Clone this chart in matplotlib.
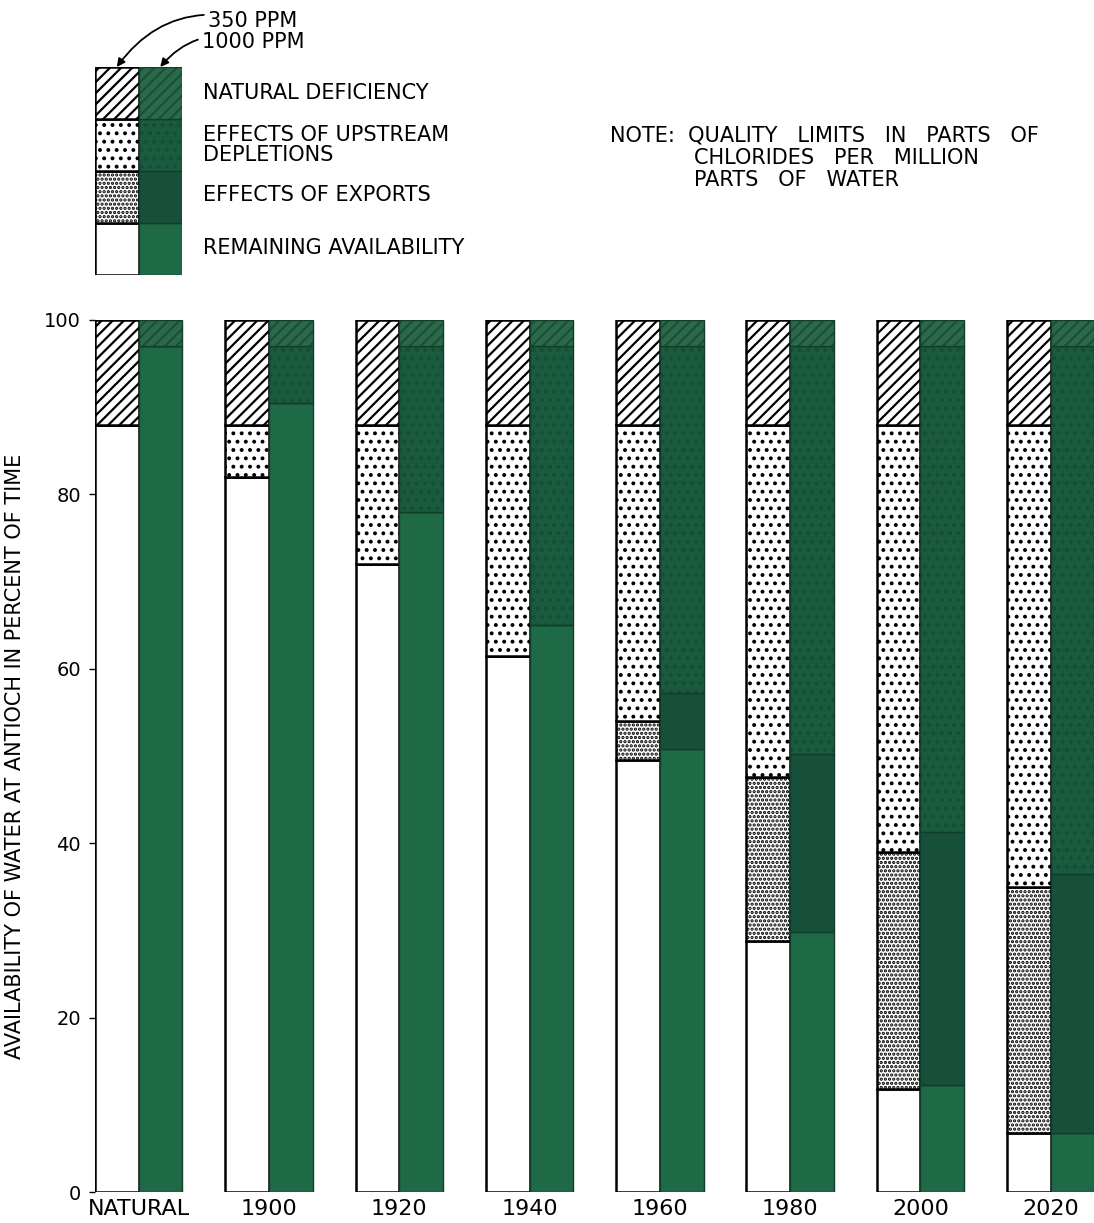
import matplotlib
matplotlib.use("Agg")
import matplotlib.pyplot as plt
import numpy as np

plt.rcParams['font.family'] = ['DejaVu Sans']
plt.rcParams['hatch.linewidth'] = 1.6

# ---------------- data ----------------
categories = ["NATURAL", "1900", "1920", "1940", "1960", "1980", "2000", "2020"]
segment_names = ["REMAINING AVAILABILITY", "EFFECTS OF EXPORTS",
                 "EFFECTS OF UPSTREAM\nDEPLETIONS", "NATURAL DEFICIENCY"]

# 350 PPM quality limit (percent of time), bottom to top
ppm350_remaining = [88, 82, 72, 61.5, 49.5, 28.8, 11.8, 6.8]
ppm350_exports = [0, 0, 0, 0, 4.5, 18.8, 27.2, 28.2]
ppm350_upstream = [0, 6, 16, 26.5, 34, 40.4, 49, 53]
ppm350_deficiency = [12, 12, 12, 12, 12, 12, 12, 12]

# 1000 PPM quality limit (percent of time), bottom to top
ppm1000_remaining = [97, 90.5, 78, 65, 50.8, 29.8, 12.3, 6.8]
ppm1000_exports = [0, 0, 0, 0, 6.4, 20.4, 29.0, 29.7]
ppm1000_upstream = [0, 6.5, 19, 32, 39.8, 46.8, 55.7, 60.5]
ppm1000_deficiency = [3, 3, 3, 3, 3, 3, 3, 3]

yticks = [0, 20, 40, 60, 80, 100]
ytick_labels = ["0", "20", "40", "60", "80", "100"]

# ---------------- styles ----------------
w = 0.335
white_fc = ["white", "white", "white", "white"]
white_hatch = [None, "....", "..", "///"]
green_fc = ["#1f6a46", "#17503a", "#1a5a3e", "#2a6a4b"]
green_hatch = [None, None, "..", "///"]
green_hc = [None, None, "#164d35", "#1b4f38"]
FS = 15

fig = plt.figure(figsize=(10.94, 12.23), dpi=100)
ax = fig.add_axes([95/1094, 31/1223, 1 - 95/1094, 872/1223])

x = np.arange(len(categories))
s350 = [ppm350_remaining, ppm350_exports, ppm350_upstream, ppm350_deficiency]
s1000 = [ppm1000_remaining, ppm1000_exports, ppm1000_upstream, ppm1000_deficiency]


def draw_white(axis, xs, segs, width):
    bottom = np.zeros(len(xs))
    for k, vals in enumerate(segs):
        vals = np.asarray(vals, dtype=float)
        axis.bar(xs, vals, width, bottom=bottom, color=white_fc[k],
                 hatch=white_hatch[k], edgecolor="black", linewidth=0)
        axis.bar(xs, vals, width, bottom=bottom, fill=False,
                 edgecolor="black", linewidth=1.8)
        bottom = bottom + vals


def draw_green(axis, xs, segs, width):
    bottom = np.zeros(len(xs))
    for k, vals in enumerate(segs):
        vals = np.asarray(vals, dtype=float)
        axis.bar(xs, vals, width, bottom=bottom, color=green_fc[k],
                 hatch=green_hatch[k],
                 edgecolor=green_hc[k] if green_hc[k] else green_fc[k],
                 linewidth=0)
        axis.bar(xs, vals, width, bottom=bottom, fill=False,
                 edgecolor="#123d29", linewidth=1.0)
        bottom = bottom + vals


draw_white(ax, x, s350, w)
draw_green(ax, x + w, s1000, w)

ax.set_xlim(-w/2, -w/2 + 999/130.3)
ax.set_ylim(0, 100)
for sp in ["top", "right", "bottom", "left"]:
    ax.spines[sp].set_visible(False)
ax.set_yticks(yticks)
ax.set_yticklabels(ytick_labels, fontsize=14)
ax.tick_params(axis="y", length=4, width=1, pad=6, direction="out")
ax.set_xticks(x + w/2)
ax.set_xticklabels(categories, fontsize=16)
ax.tick_params(axis="x", length=0, pad=5)
ax.set_ylabel("AVAILABILITY OF WATER AT ANTIOCH IN PERCENT OF TIME",
              fontsize=FS, labelpad=14)

# ---------------- legend ----------------
lax = fig.add_axes([95/1094, (1223-275)/1223, 87/1094, 208/1223])
ones = [[1], [1], [1], [1]]
draw_white(lax, [0], ones, w)
draw_green(lax, [w], ones, w)
lax.set_xlim(-w/2, 1.5*w)
lax.set_ylim(0, 4)
lax.axis("off")

label_y = [248, 195, 145, 93]
for name, yy in zip(segment_names, label_y):
    fig.text(203/1094, 1 - yy/1223, name, fontsize=FS, va="center",
             ha="left", linespacing=0.95)

for txt, xb, tx, ty in [("350 PPM", 0, 208, 21), ("1000 PPM", w, 202, 42)]:
    lax.annotate(txt, xy=(xb, 4.0), xycoords="data",
                 xytext=(tx/1094, 1 - ty/1223), textcoords="figure fraction",
                 fontsize=FS, va="center", ha="left", annotation_clip=False,
                 arrowprops=dict(arrowstyle="-|>", color="black", lw=1.3,
                                 shrinkA=1, shrinkB=0,
                                 connectionstyle="arc3,rad=0.35",
                                 mutation_scale=12))

fig.text(610/1094, 1 - 136/1223, "NOTE:  QUALITY   LIMITS   IN   PARTS   OF",
         fontsize=FS, va="center", ha="left")
fig.text(694/1094, 1 - 158/1223, "CHLORIDES   PER   MILLION",
         fontsize=FS, va="center", ha="left")
fig.text(694/1094, 1 - 180/1223, "PARTS   OF   WATER",
         fontsize=FS, va="center", ha="left")

fig.savefig("out.png", dpi=100, facecolor="white")
